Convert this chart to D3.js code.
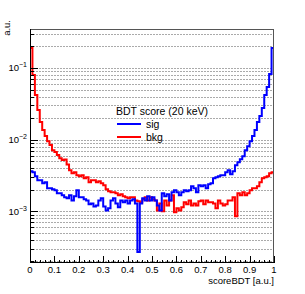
<!DOCTYPE html>
<html>
<head>
<meta charset="utf-8">
<script src="https://cdn.jsdelivr.net/npm/d3@7"></script>
<style>
  body { margin: 0; background: #fff; }
  svg { display: block; font-family: "Liberation Sans", Arial, sans-serif; }
</style>
</head>
<body>
<svg id="chart" width="305" height="294"></svg>
<script>
// BDT score histograms, 100 bins on [0,1], normalised (a.u.)
var nBins = 100;
var sigValues = [
  0.00363, 0.00351, 0.00309, 0.00271, 0.00271, 0.00246, 0.00254, 0.00210, 0.00210, 0.00203,
  0.00197, 0.00179, 0.00179, 0.00167, 0.00157, 0.00152, 0.00167, 0.00142, 0.00162, 0.00197,
  0.00157, 0.00157, 0.00147, 0.00142, 0.00125, 0.00129, 0.00117, 0.00121, 0.00142, 0.00152,
  0.00117, 0.00103, 0.00110, 0.00142, 0.00152, 0.00129, 0.00114, 0.00142, 0.00134, 0.00142,
  0.00129, 0.00142, 0.00147, 0.00129, 0.00027, 0.00129, 0.00152, 0.00142, 0.00162, 0.00142,
  0.00157, 0.00142, 0.00121, 0.00103, 0.00179, 0.00162, 0.00173, 0.00142, 0.00184, 0.00197,
  0.00184, 0.00167, 0.00184, 0.00197, 0.00190, 0.00197, 0.00224, 0.00210, 0.00184, 0.00231,
  0.00224, 0.00231, 0.00210, 0.00239, 0.00246, 0.00289, 0.00299, 0.00309, 0.00319, 0.00319,
  0.00351, 0.00375, 0.00329, 0.00363, 0.00440, 0.00484, 0.00534, 0.00588, 0.00713, 0.00811,
  0.00953, 0.0112, 0.0136, 0.0176, 0.0213, 0.0276, 0.0419, 0.0542, 0.0824, 0.190
];
var bkgValues = [
  0.190, 0.080, 0.042, 0.026, 0.0176, 0.0136, 0.0112, 0.0095, 0.0084, 0.0071,
  0.0067, 0.0061, 0.0055, 0.0052, 0.0053, 0.0045, 0.00375, 0.00340, 0.00351, 0.00319,
  0.00309, 0.00319, 0.00289, 0.00299, 0.00254, 0.00271, 0.00271, 0.00254, 0.00263, 0.00246,
  0.00231, 0.00203, 0.00190, 0.00184, 0.00184, 0.00179, 0.00167, 0.00173, 0.00162, 0.00157,
  0.00152, 0.00157, 0.00157, 0.00142, 0.00138, 0.00134, 0.00147, 0.00157, 0.00142, 0.00157,
  0.00147, 0.00142, 0.00103, 0.00129, 0.00100, 0.00142, 0.00121, 0.00142, 0.00167, 0.00097,
  0.00110, 0.00103, 0.00114, 0.00134, 0.00125, 0.00142, 0.00121, 0.00129, 0.00121, 0.00138,
  0.00142, 0.00125, 0.00142, 0.00134, 0.00134, 0.00129, 0.00110, 0.00142, 0.00129, 0.00121,
  0.00125, 0.00142, 0.00142, 0.00157, 0.00085, 0.00179, 0.00167, 0.00184, 0.00167, 0.00179,
  0.00197, 0.00210, 0.00210, 0.00224, 0.00254, 0.00289, 0.00299, 0.00309, 0.00340, 0.00351
];
var xTickValues = [0, 0.1, 0.2, 0.3, 0.4, 0.5, 0.6, 0.7, 0.8, 0.9, 1];
var yMajorExps = [-3, -2, -1];
var legendTitle = "BDT score (20 keV)";
var legendNames = ["sig", "bkg"];
var seriesColors = ["#0000ff", "#ff0000"];

var svg = d3.select("#chart");
var plotL = 30, plotR = 274, plotT = 29, plotB = 263;

var x = d3.scaleLinear().domain([0, 1]).range([plotL, plotR]);
var y = d3.scaleLog().domain([1.9e-4, 0.35]).range([plotB, plotT]);

// dashed horizontal grid at every log tick (major + minor)
var gridVals = [];
for (var e = -4; e <= 0; e++) {
  for (var m = 1; m <= 9; m++) {
    var v = m * Math.pow(10, e);
    if (v >= y.domain()[0] && v <= y.domain()[1]) gridVals.push(v);
  }
}
svg.append("g").selectAll("line")
  .data(gridVals)
  .join("line")
  .attr("x1", plotL).attr("x2", plotR)
  .attr("y1", function(d) { return Math.round(y(d)) + 0.5; })
  .attr("y2", function(d) { return Math.round(y(d)) + 0.5; })
  .attr("stroke", "#aaa")
  .attr("stroke-width", 1)
  .attr("stroke-dasharray", "2,1");

// histograms drawn as steps
svg.append("clipPath").attr("id", "plotclip")
  .append("rect").attr("x", plotL).attr("y", plotT)
  .attr("width", plotR - plotL).attr("height", plotB - plotT);

function stepPoints(values) {
  var pts = values.map(function(v, i) { return { lo: i / nBins, v: v }; });
  pts.push({ lo: 1, v: values[values.length - 1] });
  return pts;
}
var stepLine = d3.line()
  .x(function(d) { return x(d.lo); })
  .y(function(d) { return y(d.v); })
  .curve(d3.curveStepAfter);

var histGroup = svg.append("g").attr("clip-path", "url(#plotclip)");
[bkgValues, sigValues].forEach(function(vals, k) {
  histGroup.append("path")
    .attr("d", stepLine(stepPoints(vals)))
    .attr("fill", "none")
    .attr("stroke", k === 0 ? seriesColors[1] : seriesColors[0])
    .attr("stroke-width", 2);
});

// frame
svg.append("rect")
  .attr("x", plotL + 0.5).attr("y", plotT + 0.5)
  .attr("width", plotR - plotL - 1).attr("height", plotB - plotT - 1)
  .attr("fill", "none").attr("stroke", "#555").attr("stroke-width", 1);

// x axis ticks (inward) and labels
var xMinor = d3.range(0, 51).map(function(i) { return i / 50; });
svg.append("g").selectAll("line")
  .data(xMinor)
  .join("line")
  .attr("x1", function(d) { return Math.round(x(d)) + 0.5; })
  .attr("x2", function(d) { return Math.round(x(d)) + 0.5; })
  .attr("y1", plotB)
  .attr("y2", function(d, i) { return i % 5 === 0 ? plotB - 7 : plotB - 3; })
  .attr("stroke", "#000");
svg.append("line")
  .attr("x1", plotL).attr("x2", plotR)
  .attr("y1", plotB - 0.5).attr("y2", plotB - 0.5)
  .attr("stroke", "#000");
svg.append("g").selectAll("text")
  .data(xTickValues)
  .join("text")
  .attr("x", function(d) { return x(d); })
  .attr("y", 273)
  .attr("text-anchor", "middle")
  .attr("font-size", "9.5px")
  .text(function(d) { return d3.format("")(d); });

svg.append("text")
  .attr("x", plotR).attr("y", 284)
  .attr("text-anchor", "end")
  .attr("font-size", "9.5px")
  .text("scoreBDT [a.u.]");

// y axis ticks (inward) and labels
svg.append("line")
  .attr("x1", plotL + 0.5).attr("x2", plotL + 0.5)
  .attr("y1", plotT).attr("y2", plotB)
  .attr("stroke", "#000");
svg.append("g").selectAll("line")
  .data(gridVals)
  .join("line")
  .attr("x1", plotL)
  .attr("x2", function(d) {
    var isMajor = Math.abs(Math.log10(d) - Math.round(Math.log10(d))) < 1e-9;
    return isMajor ? plotL + 8 : plotL + 4;
  })
  .attr("y1", function(d) { return Math.round(y(d)) + 0.5; })
  .attr("y2", function(d) { return Math.round(y(d)) + 0.5; })
  .attr("stroke", "#000");

var yLab = svg.append("g").selectAll("text")
  .data(yMajorExps)
  .join("text")
  .attr("x", 27)
  .attr("y", function(d) { return y(Math.pow(10, d)) + 3.5; })
  .attr("text-anchor", "end")
  .attr("font-size", "9.5px");
yLab.append("tspan").text("10");
yLab.append("tspan")
  .attr("dy", -4)
  .attr("font-size", "7px")
  .text(function(d) { return "\u2212" + Math.abs(d); });

svg.append("text")
  .attr("transform", "translate(10,20) rotate(-90)")
  .attr("text-anchor", "end")
  .attr("font-size", "9.5px")
  .text("a.u.");

// legend
var legend = svg.append("g");
legend.append("text")
  .attr("x", 116).attr("y", 115)
  .attr("font-size", "10.5px")
  .text(legendTitle);
legendNames.forEach(function(name, i) {
  var ly = 124 + i * 13;
  legend.append("line")
    .attr("x1", 117).attr("x2", 141)
    .attr("y1", ly).attr("y2", ly)
    .attr("stroke", seriesColors[i]).attr("stroke-width", 2);
  legend.append("text")
    .attr("x", 146).attr("y", ly + 4)
    .attr("font-size", "10.5px")
    .text(name);
});
</script>
</body>
</html>
